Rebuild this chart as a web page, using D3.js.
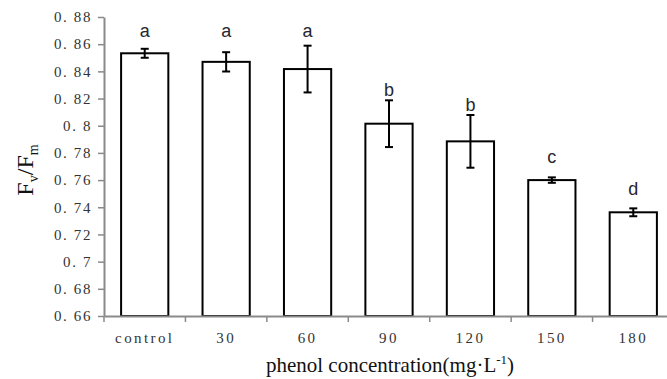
<!DOCTYPE html>
<html>
<head>
<meta charset="utf-8">
<script src="https://cdn.jsdelivr.net/npm/d3@7"></script>
<style>
  body { margin: 0; background: #fff; }
  svg { display: block; }
  .tick-label { font-family: "Liberation Serif", "DejaVu Serif", serif; font-size: 15px; fill: #333; letter-spacing: 1.6px; }
</style>
</head>
<body>
<svg id="chart" width="667" height="379"></svg>
<script>
// chart data
const categories = ['control', '30', '60', '90', '120', '150', '180'];
const means = [0.8533, 0.8470, 0.8417, 0.8015, 0.7885, 0.7600, 0.7363];
const errors = [0.0033, 0.0071, 0.0172, 0.0172, 0.0194, 0.0020, 0.0029];
const letters = ['a', 'a', 'a', 'b', 'b', 'c', 'd'];
const letterY = [0.8697, 0.8697, 0.8697, 0.8263, 0.8152, 0.7772, 0.7534];
const yTicks = [0.66, 0.68, 0.70, 0.72, 0.74, 0.76, 0.78, 0.80, 0.82, 0.84, 0.86, 0.88];
const yTickLabels = ['0. 66', '0. 68', '0. 7', '0. 72', '0. 74', '0. 76', '0. 78', '0. 8', '0. 82', '0. 84', '0. 86', '0. 88'];

const margin = {top: 17, right: -7, bottom: 63, left: 104};
const width = 667, height = 379;
const svg = d3.select('#chart');

const x = d3.scaleBand()
  .domain(categories)
  .range([margin.left, width - margin.right])
  .paddingInner(0.42)
  .paddingOuter(0.21);

const y = d3.scaleLinear()
  .domain([0.66, 0.88])
  .range([height - margin.bottom, margin.top]);

const axisColor = '#8a8a8a';

// bars
svg.append('g')
  .selectAll('rect')
  .data(means)
  .enter()
  .append('rect')
  .attr('x', (d, i) => x(categories[i]))
  .attr('y', d => y(d))
  .attr('width', x.bandwidth())
  .attr('height', d => y(0.66) - y(d))
  .style('fill', '#fff')
  .style('stroke', '#000')
  .style('stroke-width', 2);

// error bars
const eb = svg.append('g').style('stroke', '#000').style('stroke-width', 2);
means.forEach((m, i) => {
  const cx = x(categories[i]) + x.bandwidth() / 2;
  const top = y(m + errors[i]);
  const bot = y(m - errors[i]);
  eb.append('line').attr('x1', cx).attr('x2', cx).attr('y1', top).attr('y2', bot);
  eb.append('line').attr('x1', cx - 4).attr('x2', cx + 4).attr('y1', top).attr('y2', top);
  eb.append('line').attr('x1', cx - 4).attr('x2', cx + 4).attr('y1', bot).attr('y2', bot);
});

// significance letters
svg.append('g')
  .selectAll('text')
  .data(letters)
  .enter()
  .append('text')
  .attr('x', (d, i) => x(categories[i]) + x.bandwidth() / 2)
  .attr('y', (d, i) => y(letterY[i]))
  .attr('dy', '0.35em')
  .style('text-anchor', 'middle')
  .style('font-family', '"Liberation Sans", Arial, sans-serif')
  .style('font-size', '18px')
  .style('fill', '#262630')
  .text(d => d);

// y axis
const yAxis = svg.append('g')
  .attr('transform', 'translate(' + margin.left + ',0)')
  .call(d3.axisLeft(y)
    .tickValues(yTicks)
    .tickFormat((d, i) => yTickLabels[i])
    .tickSize(6)
    .tickSizeOuter(0));
yAxis.select('.domain').style('stroke', axisColor).style('stroke-width', 2);
yAxis.selectAll('.tick line').style('stroke', axisColor).style('stroke-width', 1.5);
yAxis.selectAll('.tick text').attr('class', 'tick-label').attr('x', -12);

// x axis
const baseY = y(0.66);
const xAxis = svg.append('g')
  .attr('transform', 'translate(0,' + baseY + ')')
  .call(d3.axisBottom(x).tickSize(0).tickPadding(16).tickSizeOuter(0));
xAxis.select('.domain').style('stroke', axisColor).style('stroke-width', 2);
xAxis.selectAll('.tick text').attr('class', 'tick-label').style('letter-spacing', '2.4px');
// category boundary ticks
d3.range(categories.length + 1).forEach(i => {
  const bx = x.range()[0] + i * x.step();
  xAxis.append('line')
    .attr('x1', bx).attr('x2', bx)
    .attr('y1', 0).attr('y2', 6)
    .style('stroke', axisColor)
    .style('stroke-width', 1.5);
});

// x axis title
const xt = svg.append('text')
  .attr('x', 390)
  .attr('y', 372)
  .style('text-anchor', 'middle')
  .style('font-family', '"Liberation Serif", "DejaVu Serif", serif')
  .style('font-size', '21px')
  .style('fill', '#111');
xt.append('tspan').text('phenol concentration(mg\u00b7L');
xt.append('tspan').attr('dy', -8).style('font-size', '13px').text('-1');
xt.append('tspan').attr('dy', 8).text(')');

// y axis title
const yt = svg.append('text')
  .attr('transform', 'translate(33,170) rotate(-90)')
  .style('text-anchor', 'middle')
  .style('font-family', '"Liberation Serif", "DejaVu Serif", serif')
  .style('font-size', '24px')
  .style('fill', '#111');
yt.append('tspan').text('F');
yt.append('tspan').attr('dy', 5).style('font-size', '14px').text('v');
yt.append('tspan').attr('dy', -5).text('/F');
yt.append('tspan').attr('dy', 5).style('font-size', '14px').text('m');
</script>
</body>
</html>
